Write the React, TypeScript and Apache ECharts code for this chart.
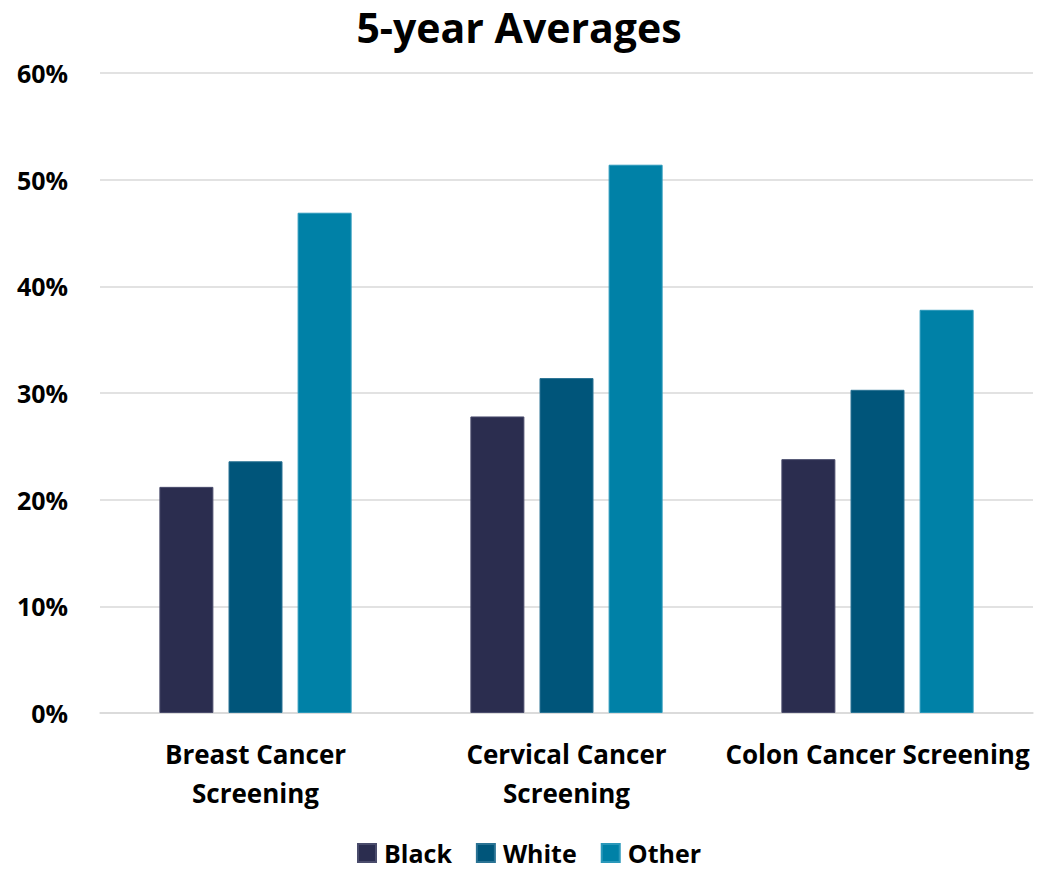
import React, { useEffect, useRef } from "react";
import * as echarts from "echarts";

const categories = ["Breast Cancer\nScreening", "Cervical Cancer\nScreening", "Colon Cancer Screening"];
const seriesNames = ["Black", "White", "Other"];
const blackValues = [21.2, 27.8, 23.8];
const whiteValues = [23.6, 31.4, 30.3];
const otherValues = [46.9, 51.4, 37.8];
const seriesColors = ["#2b2d4f", "#00557a", "#0081a7"];
const borderColors = ["#4a4c6c", "#2a7394", "#2a98ba"];
const yTicks = { min: 0, max: 60, interval: 10 };

const FONT = "'Open Sans', Lato, sans-serif";

export default function App() {
  const ref = useRef<HTMLDivElement>(null);

  useEffect(() => {
    document.body.style.margin = "0";
    if (!ref.current) return;
    const chart = echarts.init(ref.current, null, { renderer: "svg" });
    const values = [blackValues, whiteValues, otherValues];
    chart.setOption({
      animation: false,
      backgroundColor: "#ffffff",
      title: {
        text: "5-year Averages",
        left: "center",
        top: 1,
        textStyle: { fontFamily: FONT, fontWeight: "bold", fontSize: 41, color: "#000" },
      },
      legend: {
        data: seriesNames,
        left: 357,
        top: 840,
        padding: 0,
        icon: "rect",
        itemWidth: 18,
        itemHeight: 18,
        itemGap: 24,
        textStyle: {
          fontFamily: FONT,
          fontWeight: "bold",
          fontSize: 25,
          lineHeight: 26,
          color: "#000",
          padding: [0, 0, 0, 3],
        },
      },
      grid: { left: 100, right: 5, top: 73, bottom: 156, containLabel: false },
      xAxis: {
        type: "category",
        data: categories,
        axisLine: { show: true, lineStyle: { color: "#d9d9d9", width: 1.5 } },
        axisTick: { show: false },
        axisLabel: {
          interval: 0,
          margin: 21,
          fontFamily: FONT,
          fontWeight: "bold",
          fontSize: 26,
          lineHeight: 39,
          color: "#000",
        },
      },
      yAxis: {
        type: "value",
        min: yTicks.min,
        max: yTicks.max,
        interval: yTicks.interval,
        axisLine: { show: false },
        axisTick: { show: false },
        splitLine: { lineStyle: { color: "#d9d9d9", width: 1.5 } },
        axisLabel: {
          margin: 32,
          fontFamily: FONT,
          fontWeight: "bold",
          fontSize: 25,
          color: "#000",
          formatter: (v: number) => `${v}%`,
        },
      },
      series: seriesNames.map((name, i) => ({
        name,
        type: "bar",
        data: values[i],
        barWidth: 54,
        barGap: "28%",
        itemStyle: { color: seriesColors[i], borderColor: borderColors[i], borderWidth: 1 },
      })),
    });
    return () => chart.dispose();
  }, []);

  return <div ref={ref} style={{ width: 1038, height: 869 }} />;
}
